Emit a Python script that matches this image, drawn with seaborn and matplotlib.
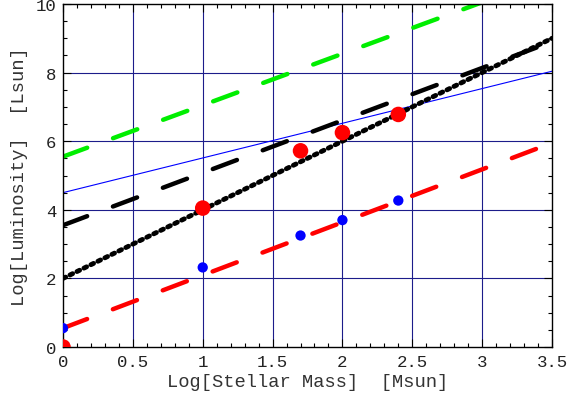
import matplotlib
matplotlib.use("Agg")
import matplotlib.pyplot as plt
import seaborn as sns
import numpy as np
import pandas as pd
from matplotlib.ticker import MultipleLocator

# ---- data ----
line_x = [0.0, 3.5]
green_y = [5.55, 10.8]
black_dashed_y = [3.55, 8.9]
black_dotted_y = [2.0, 9.0]
blue_thin_y = [4.5, 8.04]
red_dashed_y = [0.55, 5.95]

red_pts_x = [0.0, 1.0, 1.7, 2.0, 2.4]
red_pts_y = [0.0, 4.05, 5.72, 6.25, 6.78]
blue_pts_x = [0.0, 1.0, 1.7, 2.0, 2.4]
blue_pts_y = [0.55, 2.32, 3.25, 3.70, 4.27]

x_ticks = [0, 0.5, 1, 1.5, 2, 2.5, 3, 3.5]
x_tick_labels = ["0", "0.5", "1", "1.5", "2", "2.5", "3", "3.5"]
y_ticks = [0, 2, 4, 6, 8, 10]
y_tick_labels = ["0", "2", "4", "6", "8", "10"]

sns.set_style("white")
plt.rcParams['font.family'] = ['Liberation Mono', 'DejaVu Sans Mono']

fig = plt.figure(figsize=(5.7, 4.02), dpi=100)
ax = fig.add_axes([63/570, 1-348/402, (552-63)/570, (348-5)/402])

grid_c = "#1c1c8a"
for gx in [0.5, 1, 1.5, 2, 2.5, 3]:
    ax.axvline(gx, color=grid_c, lw=0.8, zorder=0.5)
for gy in [2, 4, 6, 8]:
    ax.axhline(gy, color=grid_c, lw=0.8, zorder=0.5)

dash = (0, (5.8, 6.2))
lw = 3.2
sns.lineplot(x=line_x, y=green_y, color="#00ee00", lw=lw, linestyle=dash,
             dash_capstyle="round", ax=ax, zorder=2)
sns.lineplot(x=line_x, y=blue_thin_y, color="#0000ff", lw=0.8, ax=ax, zorder=2)
sns.lineplot(x=line_x, y=black_dashed_y, color="black", lw=lw, linestyle=dash,
             dash_capstyle="round", ax=ax, zorder=2)
sns.lineplot(x=line_x, y=black_dotted_y, color="black", lw=3.5, linestyle=(0, (0.6, 1.0)),
             dash_capstyle="round", ax=ax, zorder=2)
sns.lineplot(x=line_x, y=red_dashed_y, color="#ff0000", lw=lw, linestyle=dash,
             dash_capstyle="round", ax=ax, zorder=2)

sns.scatterplot(x=red_pts_x, y=red_pts_y, color="#ff0000", s=125, edgecolor="none",
                ax=ax, zorder=3)
sns.scatterplot(x=blue_pts_x, y=blue_pts_y, color="#0000ff", s=55, edgecolor="none",
                ax=ax, zorder=4)

ax.set_xlim(0, 3.5)
ax.set_ylim(0, 10)
ax.set_xticks(x_ticks)
ax.set_xticklabels(x_tick_labels)
ax.set_yticks(y_ticks)
ax.set_yticklabels(y_tick_labels)
ax.xaxis.set_minor_locator(MultipleLocator(0.1))
ax.yaxis.set_minor_locator(MultipleLocator(0.5))
ax.tick_params(which="both", direction="in", top=True, right=True, bottom=True, left=True,
               color="black", width=0.8)
ax.tick_params(which="major", length=6, labelsize=12.5, pad=5, labelcolor="#222222")
ax.tick_params(which="minor", length=3)
for sp in ax.spines.values():
    sp.set_color("black")
    sp.set_linewidth(1.0)

ax.set_xlabel("Log[Stellar Mass]  [Msun]", fontsize=13.5, color="#333333", labelpad=3)
ax.set_ylabel("Log[Luminosity]  [Lsun]", fontsize=13.5, color="#333333", labelpad=5)

fig.savefig("out.png", dpi=100)
